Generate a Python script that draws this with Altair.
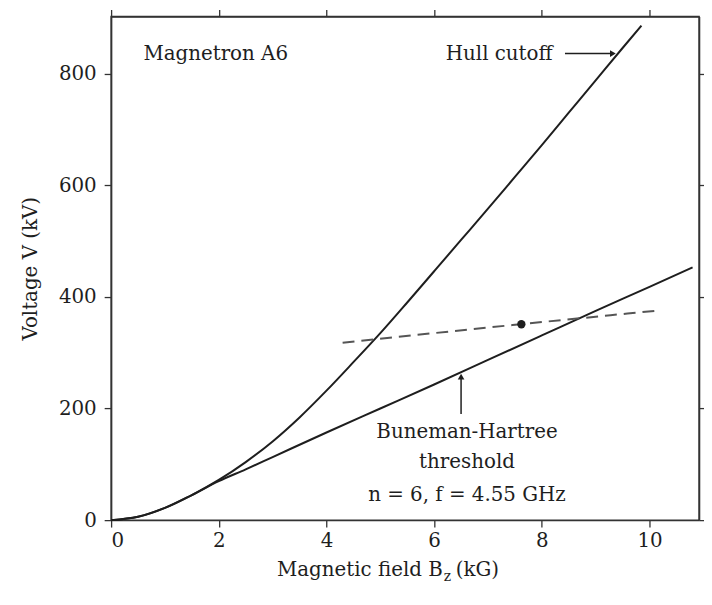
import altair as alt
import pandas as pd

# ---- data ----
hull_B = [0, 0.5, 1.0, 1.5, 2.0, 2.5, 3.0, 3.5, 4.0, 4.5, 5.0, 5.5, 6.0, 6.5, 7.0, 7.5, 8.0, 8.5, 9.0, 9.5, 9.85]
hull_V = [0, 6, 22, 45, 72, 104, 141, 184, 232, 283, 335, 390, 446, 502, 558, 615, 672, 730, 788, 846, 886]

bh_B = [0, 0.5, 1.0, 1.5, 2.0, 2.5, 3.0, 4.0, 5.0, 6.0, 7.0, 8.0, 9.0, 10.0, 10.8]
bh_V = [0, 6, 22, 45, 70, 91, 113, 157, 200, 243, 287, 331, 375, 418, 453]

dash_B = [4.3, 7.6, 10.1]
dash_V = [318, 351, 375]

pt_B = [7.62]
pt_V = [351]

x_ticks = [0, 2, 4, 6, 8, 10]
y_ticks = [0, 200, 400, 600, 800]

FONT = "DejaVu Serif"
INK = "#1e1e1e"
XD = [0, 10.92]
YD = [0, 902.5]

hull = pd.DataFrame({"B": hull_B, "V": hull_V})
bh = pd.DataFrame({"B": bh_B, "V": bh_V})
dash = pd.DataFrame({"B": dash_B, "V": dash_V})
pt = pd.DataFrame({"B": pt_B, "V": pt_V})

xs = alt.Scale(domain=XD, nice=False, zero=False)
ys = alt.Scale(domain=YD, nice=False, zero=False)

ax_common = dict(domain=True, domainColor="#333333", domainWidth=1.5,
                 ticks=True, tickColor="#333333", tickWidth=1.3, tickSize=7, tickOpacity=1,
                 grid=False, labelFont=FONT, labelFontSize=20, labelColor=INK,
                 titleFont=FONT, titleFontSize=20, titleColor=INK, titleFontWeight="normal")

x_bottom = alt.Axis(orient="bottom", values=x_ticks, labelPadding=4, title=None, **ax_common)
y_left = alt.Axis(orient="left", values=y_ticks, labelPadding=8, title="Voltage V (kV)",
                  titlePadding=18, **ax_common)
x_top = alt.Axis(orient="top", values=x_ticks, labels=False, title=None, **ax_common)
y_right = alt.Axis(orient="right", values=y_ticks, labels=False, title=None, **ax_common)

hull_line = alt.Chart(hull).mark_line(color=INK, strokeWidth=2, interpolate="monotone").encode(
    x=alt.X("B:Q", scale=xs, axis=x_bottom),
    y=alt.Y("V:Q", scale=ys, axis=y_left),
)
bh_line = alt.Chart(bh).mark_line(color=INK, strokeWidth=2, interpolate="monotone").encode(
    x=alt.X("B:Q", scale=xs, axis=x_top),
    y=alt.Y("V:Q", scale=ys, axis=y_right),
)
dash_line = alt.Chart(dash).mark_line(color="#555555", strokeWidth=2, strokeDash=[12, 7],
                                      interpolate="monotone").encode(
    x=alt.X("B:Q", scale=xs, axis=None),
    y=alt.Y("V:Q", scale=ys, axis=None),
)
dot = alt.Chart(pt).mark_point(filled=True, color=INK, size=70, opacity=1).encode(
    x=alt.X("B:Q", scale=xs, axis=None),
    y=alt.Y("V:Q", scale=ys, axis=None),
)

# annotation arrows
arr_hull = pd.DataFrame({"B": [8.43, 9.3], "V": [836, 836]})
arr_bh = pd.DataFrame({"B": [6.5, 6.5], "V": [190, 255]})
heads = pd.DataFrame({"B": [9.32, 6.5], "V": [836, 257], "shape": ["triangle-right", "triangle-up"]})

def seg(df):
    return alt.Chart(df).mark_line(color=INK, strokeWidth=1.5).encode(
        x=alt.X("B:Q", scale=xs, axis=None), y=alt.Y("V:Q", scale=ys, axis=None))

head_marks = alt.Chart(heads).mark_point(filled=True, color=INK, size=45, opacity=1).encode(
    x=alt.X("B:Q", scale=xs, axis=None),
    y=alt.Y("V:Q", scale=ys, axis=None),
    shape=alt.Shape("shape:N", scale=None, legend=None),
)

labels = pd.DataFrame({
    "B": [0.6, 8.2, 6.61, 6.61, 6.61],
    "V": [836, 836, 157.7, 104.4, 45.7],
    "t": ["Magnetron A6", "Hull cutoff", "Buneman-Hartree", "threshold", "n = 6, f = 4.55 GHz"],
    "a": ["left", "right", "center", "center", "center"],
})

def txt(df, align, size=20, dx=0, dy=0, baseline="middle"):
    return alt.Chart(df).mark_text(font=FONT, fontSize=size, color=INK, align=align,
                                   baseline=baseline, dx=dx, dy=dy).encode(
        x=alt.X("B:Q", scale=xs, axis=None),
        y=alt.Y("V:Q", scale=ys, axis=None),
        text="t:N",
    )

t_left = txt(labels[labels.a == "left"], "left")
t_right = txt(labels[labels.a == "right"], "right")
t_center = txt(labels[labels.a == "center"], "center")

# x-axis title with subscript z
xt1 = txt(pd.DataFrame({"B": [6.16], "V": [-100], "t": ["Magnetic field B"]}), "right", baseline="alphabetic")
xt2 = txt(pd.DataFrame({"B": [6.16], "V": [-100], "t": ["z"]}), "left", size=14, dx=1, dy=5, baseline="alphabetic")
xt3 = txt(pd.DataFrame({"B": [6.16], "V": [-100], "t": ["(kG)"]}), "left", dx=13, baseline="alphabetic")

chart = alt.layer(
    hull_line, bh_line, dash_line, dot, seg(arr_hull), seg(arr_bh), head_marks,
    t_left, t_right, t_center, xt1, xt2, xt3,
).resolve_axis(x="independent", y="independent").properties(
    width=593, height=508,
    autosize=alt.AutoSizeParams(type="none"),
    padding={"left": 104, "top": 6, "right": 5, "bottom": 76},
    background="white",
).configure_view(stroke="#333333", strokeWidth=1.5)

chart.save("out.html", embed_options={"renderer": "svg", "actions": False})
